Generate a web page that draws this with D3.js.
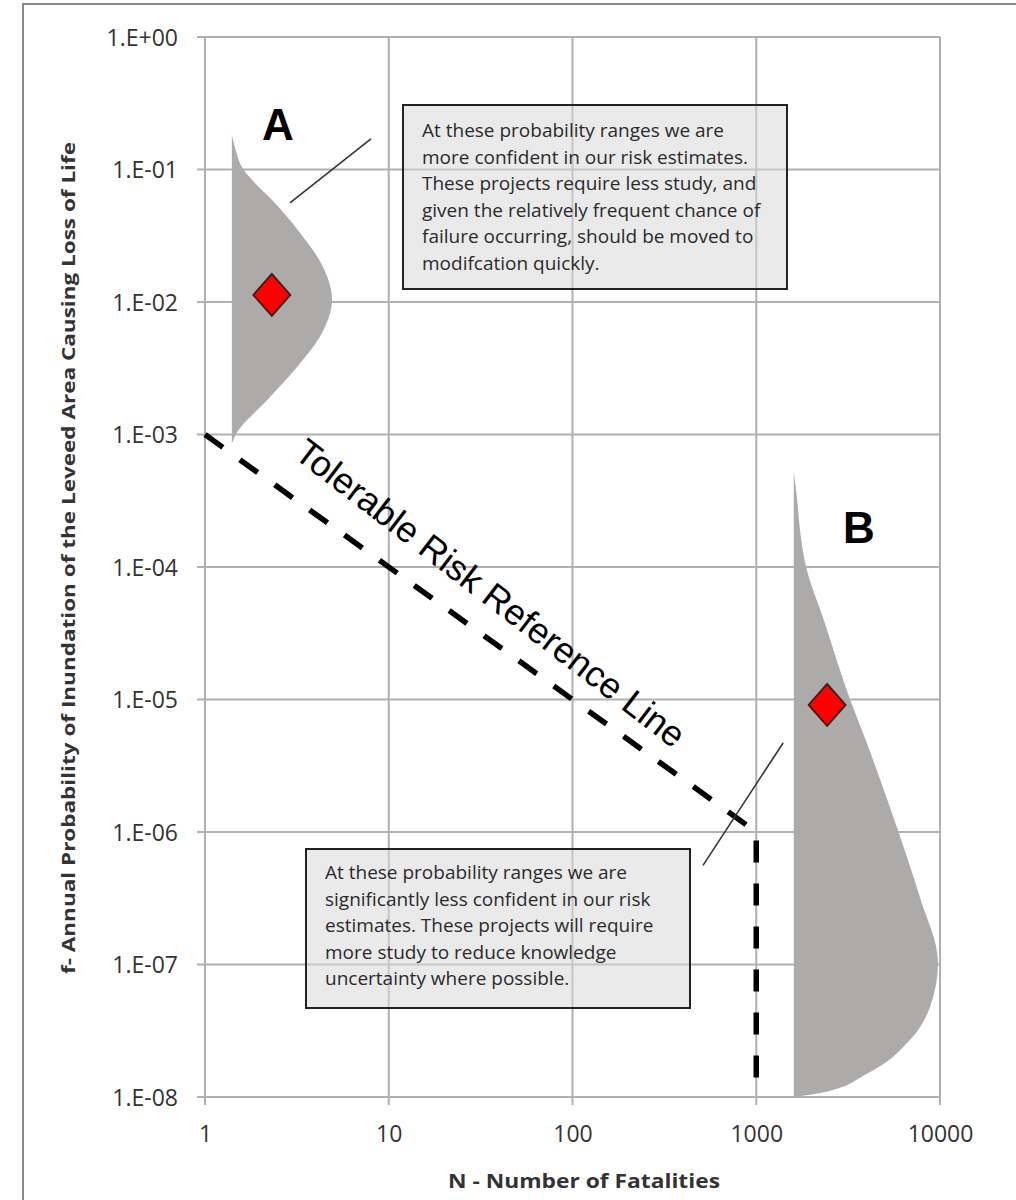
<!DOCTYPE html>
<html>
<head>
<meta charset="utf-8">
<script src="https://cdn.jsdelivr.net/npm/d3@7"></script>
<style>
  html, body { margin: 0; padding: 0; background: #ffffff; }
  svg { display: block; }
</style>
</head>
<body>
<svg id="chart" width="1016" height="1200"></svg>
<script>
// ---- data ----
const xTickValues = [1, 10, 100, 1000, 10000];
const xTickLabels = ["1", "10", "100", "1000", "10000"];
const yTickValues = [1, 1e-1, 1e-2, 1e-3, 1e-4, 1e-5, 1e-6, 1e-7, 1e-8];
const yTickLabels = ["1.E+00", "1.E-01", "1.E-02", "1.E-03", "1.E-04", "1.E-05", "1.E-06", "1.E-07", "1.E-08"];

// uncertainty profile of project A: [annual probability, fatalities at right edge]
const profileA = [
  [0.182, 1.40], [0.140, 1.47], [0.104, 1.59], [0.079, 1.87], [0.059, 2.31],
  [0.0332, 3.29], [0.0184, 4.39], [0.0104, 4.91], [0.00583, 4.33],
  [0.00323, 3.17], [0.00182, 2.18], [0.00103, 1.49], [0.00086, 1.40]
];
const baseA = 1.40;

// uncertainty profile of project B
const profileB = [
  [5.2e-4, 1600], [3.2e-4, 1670], [1.9e-4, 1730], [1.02e-4, 1860], [4.0e-5, 2330],
  [1.0e-5, 3240], [4.9e-6, 3950], [1.03e-6, 5900], [3.2e-7, 7780], [1.03e-7, 9750],
  [4.8e-8, 8830], [2.7e-8, 6870], [1.5e-8, 4010], [1.07e-8, 2220], [1e-8, 1600]
];
const baseB = 1600;

// best estimates: [fatalities, probability]
const pointA = [2.31, 0.0113];
const pointB = [2430, 9.1e-6];

// tolerable risk reference line: [fatalities, probability]
const riskLine = [[1, 1e-3], [1000, 1e-6], [1000, 1e-8]];

// leader lines: [fatalities, probability]
const leaderA = [[2.90, 0.0559], [8.0, 0.170]];
const leaderB = [[513, 5.6e-7], [1400, 4.7e-6]];

const noteA = [
  "At these probability ranges we are",
  "more confident in our risk estimates.",
  "These projects require less study, and",
  "given the relatively frequent chance of",
  "failure occurring, should be moved to",
  "modifcation quickly."
];
const noteB = [
  "At these probability ranges we are",
  "significantly less confident in our risk",
  "estimates. These projects will require",
  "more study to reduce knowledge",
  "uncertainty where possible."
];

// ---- layout ----
const svg = d3.select("#chart");
const plotL = 205, plotR = 940, plotT = 37, plotB = 1097;
const x = d3.scaleLog().domain([1, 10000]).range([plotL, plotR]);
const y = d3.scaleLog().domain([1e-8, 1]).range([plotB, plotT]);

const gridColor = "#b0b0b0";
const textFont = "'Open Sans', 'Noto Sans', sans-serif";

// outer frame
svg.append("path")
  .attr("d", "M23,1200 L23,4 L1016,4")
  .attr("fill", "none").attr("stroke", "#8e8782").attr("stroke-width", 2);

// grid
const grid = svg.append("g");
grid.selectAll("line.v").data(xTickValues).join("line")
  .attr("x1", d => x(d)).attr("x2", d => x(d))
  .attr("y1", plotT).attr("y2", plotB + 8)
  .attr("stroke", gridColor).attr("stroke-width", 2);
grid.selectAll("line.h").data(yTickValues).join("line")
  .attr("x1", plotL - 8).attr("x2", plotR)
  .attr("y1", d => y(d)).attr("y2", d => y(d))
  .attr("stroke", gridColor).attr("stroke-width", 2);

// axes labels via d3 axes
const yAxis = d3.axisLeft(y).tickValues(yTickValues)
  .tickFormat((d, i) => yTickLabels[i]).tickSize(0).tickPadding(27);
const gy = svg.append("g").attr("transform", `translate(${plotL},0)`).call(yAxis);
gy.select(".domain").remove();
gy.selectAll("text").attr("font-family", textFont).attr("font-size", 23)
  .attr("fill", "#333").attr("dy", "0.36em");

const xAxis = d3.axisBottom(x).tickValues(xTickValues)
  .tickFormat((d, i) => xTickLabels[i]).tickSize(0).tickPadding(29);
const gx = svg.append("g").attr("transform", `translate(0,${plotB})`).call(xAxis);
gx.select(".domain").remove();
gx.selectAll("text").attr("font-family", textFont).attr("font-size", 23)
  .attr("fill", "#333");

// axis titles
svg.append("text")
  .attr("transform", "translate(75,558) rotate(-90)")
  .attr("text-anchor", "middle")
  .attr("font-family", textFont).attr("font-weight", "bold").attr("font-size", 18)
  .attr("fill", "#333")
  .attr("textLength", 832).attr("lengthAdjust", "spacingAndGlyphs")
  .text("f- Annual Probability of Inundation of the Leveed Area Causing Loss of Life");

svg.append("text")
  .attr("x", 584).attr("y", 1188)
  .attr("text-anchor", "middle")
  .attr("font-family", textFont).attr("font-weight", "bold").attr("font-size", 19)
  .attr("fill", "#333")
  .attr("textLength", 272).attr("lengthAdjust", "spacingAndGlyphs")
  .text("N - Number of Fatalities");

// uncertainty shapes
const shapeFill = "#adaaaa";
function profileArea(base) {
  return d3.area()
    .y(d => y(d[0]))
    .x0(x(base))
    .x1(d => x(d[1]))
    .curve(d3.curveMonotoneY);
}
svg.append("path").datum(profileA.slice().reverse())
  .attr("d", profileArea(baseA)).attr("fill", shapeFill);
svg.append("path").datum(profileB.slice().reverse())
  .attr("d", profileArea(baseB)).attr("fill", shapeFill);

// tolerable risk reference line
svg.append("path")
  .attr("d", d3.line().x(d => x(d[0])).y(d => y(d[1]))(riskLine))
  .attr("fill", "none").attr("stroke", "#000").attr("stroke-width", 5.5)
  .attr("stroke-dasharray", "22,21");

svg.append("text")
  .attr("transform", "translate(483,603) rotate(37.5)")
  .attr("text-anchor", "middle")
  .attr("font-family", "'Liberation Sans', Arial, sans-serif")
  .attr("font-size", 36).attr("fill", "#000")
  .text("Tolerable Risk Reference Line");

// leader lines
[leaderA, leaderB].forEach(seg => {
  svg.append("line")
    .attr("x1", x(seg[0][0])).attr("y1", y(seg[0][1]))
    .attr("x2", x(seg[1][0])).attr("y2", y(seg[1][1]))
    .attr("stroke", "#333").attr("stroke-width", 1.6);
});

// best estimate markers
function diamond(px, py) {
  const w = 18.5, h = 21;
  return `M${px},${py - h}L${px + w},${py}L${px},${py + h}L${px - w},${py}Z`;
}
[pointA, pointB].forEach(pt => {
  svg.append("path")
    .attr("d", diamond(x(pt[0]), y(pt[1])))
    .attr("fill", "#ff0000").attr("stroke", "#3b1a1a").attr("stroke-width", 1.8);
});

// project labels
svg.append("text").attr("x", 278).attr("y", 140).attr("text-anchor", "middle")
  .attr("font-family", "'Liberation Sans', Arial, sans-serif").attr("font-weight", "bold")
  .attr("font-size", 44).text("A");
svg.append("text").attr("x", 859).attr("y", 543).attr("text-anchor", "middle")
  .attr("font-family", "'Liberation Sans', Arial, sans-serif").attr("font-weight", "bold")
  .attr("font-size", 44).text("B");

// annotation boxes
function noteBox(bx, by, bw, bh, lines, firstBase) {
  svg.append("rect")
    .attr("x", bx).attr("y", by).attr("width", bw).attr("height", bh)
    .attr("fill", "#d9d9d9").attr("fill-opacity", 0.55)
    .attr("stroke", "#222").attr("stroke-width", 2);
  const t = svg.append("text")
    .attr("font-family", textFont).attr("font-size", 19).attr("fill", "#2a2a2a");
  lines.forEach((ln, i) => {
    t.append("tspan").attr("x", bx + 19).attr("y", firstBase + i * 26.6).text(ln);
  });
}
noteBox(403, 105, 384, 184, noteA, 137);
noteBox(306, 849, 384, 159, noteB, 879);
</script>
</body>
</html>
